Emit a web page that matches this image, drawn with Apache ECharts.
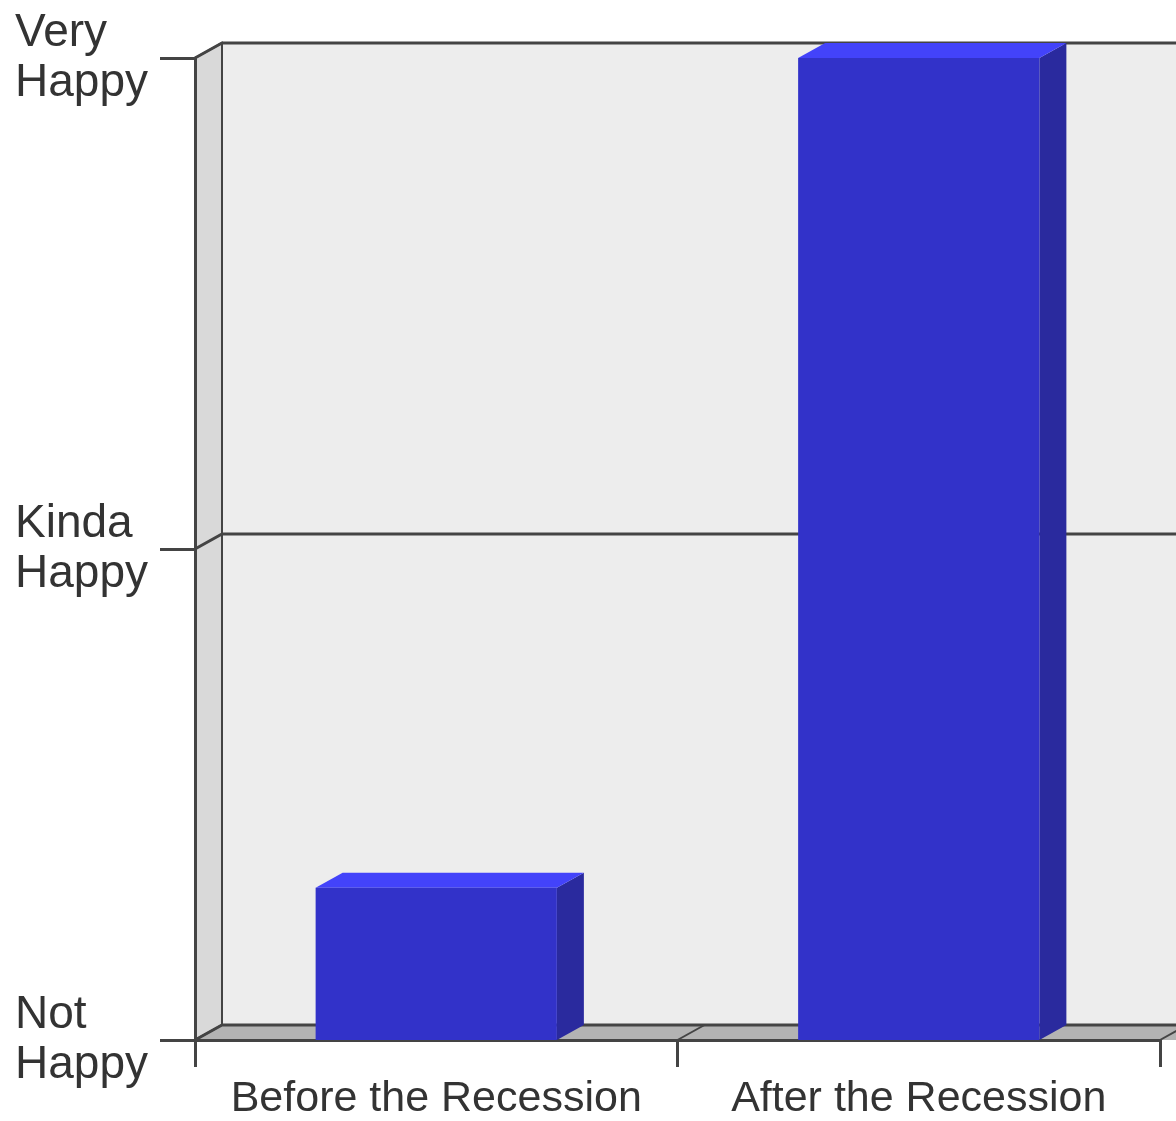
<!DOCTYPE html>
<html>
<head>
<meta charset="utf-8">
<script src="https://cdn.jsdelivr.net/npm/echarts@6/dist/echarts.min.js"></script>
<style>html,body{margin:0;padding:0;background:#fff}#c{width:1176px;height:1121px}</style>
</head>
<body>
<div id="c"></div>
<script>
const categories = ['Before the Recession', 'After the Recession'];
const happiness = [0.31, 2];
const yTickValues = [0, 1, 2];
const yTickLabels = ['Not\nHappy', 'Kinda\nHappy', 'Very\nHappy'];

const DX = 27, DY = -15;
const LINE = '#444444';
const chart = echarts.init(document.getElementById('c'), null, {renderer: 'canvas'});

function renderFrame(params, api) {
  const cs = params.coordSys;
  const gx = cs.x, gy = cs.y, gw = cs.width, gh = cs.height;
  const by = gy + gh;
  const children = [];
  children.push({type: 'rect', shape: {x: gx + DX, y: gy + DY, width: gw + 40, height: gh}, style: {fill: '#ededed'}});
  children.push({type: 'polygon', shape: {points: [[gx, by], [gx, gy], [gx + DX, gy + DY], [gx + DX, by + DY]]}, style: {fill: '#d9d9d9', stroke: LINE, lineWidth: 2}});
  children.push({type: 'polygon', shape: {points: [[gx, by], [gx + DX, by + DY], [gx + gw + DX + 40, by + DY], [gx + gw + 40, by]]}, style: {fill: '#b3b3b3'}});
  yTickValues.forEach(function (v) {
    const y = api.coord([0, v])[1];
    children.push({type: 'polyline', shape: {points: [[gx, y], [gx + DX, y + DY], [gx + gw + DX + 40, y + DY]]}, style: {stroke: LINE, lineWidth: 3, fill: null}});
  });
  const band = gw / categories.length;
  for (let k = 0; k <= categories.length; k++) {
    const x = gx + band * k;
    children.push({type: 'line', shape: {x1: x, y1: by, x2: x + DX, y2: by + DY}, style: {stroke: LINE, lineWidth: 2}});
  }
  return {type: 'group', children: children};
}

function renderBar(params, api) {
  const i = api.value(0), v = api.value(1);
  const top = api.coord([i, v]);
  const base = api.coord([i, 0]);
  const w = api.size([1, 0])[0] * 0.5;
  const x0 = top[0] - w / 2, x1 = top[0] + w / 2;
  const yt = top[1], yb = base[1];
  return {type: 'group', children: [
    {type: 'polygon', shape: {points: [[x1, yt], [x1 + DX, yt + DY], [x1 + DX, yb + DY], [x1, yb]]}, style: {fill: '#2a2a9e'}},
    {type: 'polygon', shape: {points: [[x0, yt], [x0 + DX, yt + DY], [x1 + DX, yt + DY], [x1, yt]]}, style: {fill: '#4343fa'}},
    {type: 'rect', shape: {x: x0, y: yt, width: w, height: yb - yt}, style: {fill: '#3232c9'}}
  ]};
}

chart.setOption({
  animation: false,
  backgroundColor: '#ffffff',
  grid: {left: 195, right: 16, top: 58, bottom: 79, containLabel: false},
  xAxis: {
    type: 'category',
    data: categories,
    z: 1,
    axisLine: {show: true, lineStyle: {color: LINE, width: 3}},
    axisTick: {show: true, interval: 0, length: 27, lineStyle: {color: LINE, width: 3}},
    axisLabel: {interval: 0, hideOverlap: false, margin: 38, fontFamily: 'Liberation Sans, Arial, sans-serif', fontSize: 43, color: '#333333'},
    splitLine: {show: false}
  },
  yAxis: {
    type: 'value',
    min: 0, max: 2, interval: 1,
    z: 1,
    axisLine: {show: true, lineStyle: {color: LINE, width: 3}},
    axisTick: {show: true, length: 35, lineStyle: {color: LINE, width: 3}},
    axisLabel: {
      margin: 180, align: 'left', fontFamily: 'Liberation Sans, Arial, sans-serif', fontSize: 46, lineHeight: 50, color: '#333333',
      formatter: function (val) { const k = yTickValues.indexOf(val); return k >= 0 ? yTickLabels[k] : ''; }
    },
    splitLine: {show: false}
  },
  series: [
    {type: 'custom', z: 0, silent: true, renderItem: renderFrame, data: [[0, 0]]},
    {type: 'custom', z: 3, renderItem: renderBar, data: categories.map(function (c, i) { return [i, happiness[i]]; })}
  ]
});
</script>
</body>
</html>
